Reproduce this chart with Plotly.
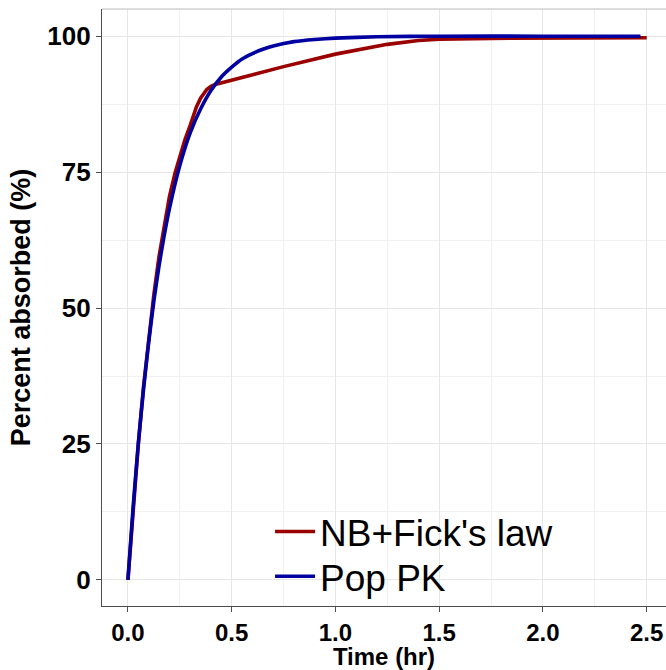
import plotly.graph_objects as go

# Data
red_name = "NB+Fick's law"
red_t = [0, 0.025, 0.05, 0.075, 0.1, 0.125, 0.15, 0.175, 0.2, 0.228, 0.25, 0.275, 0.3, 0.33,
         0.35, 0.365, 0.38, 0.39, 0.40, 0.42, 0.5, 0.75, 1.0, 1.25, 1.4, 1.5, 1.75, 2.0, 2.5]
red_v = [0, 13.5, 25, 35.5, 44.5, 52.5, 59.5, 65.5, 70.5, 75, 78, 81, 83.6, 87.0,
         88.6, 89.5, 90.2, 90.5, 90.8, 91.1, 91.9, 94.4, 96.7, 98.5, 99.2, 99.45, 99.6, 99.65, 99.7]

blue_name = "Pop PK"
blue_t = [0, 0.025, 0.05, 0.075, 0.1, 0.125, 0.15, 0.175, 0.2, 0.25, 0.3, 0.35, 0.4, 0.45,
          0.5, 0.55, 0.6, 0.65, 0.7, 0.8, 0.9, 1.0, 1.2, 1.5, 2.0, 2.47]
blue_v = [0, 13.4, 25, 35, 43.7, 51.3, 57.8, 63.4, 68.3, 76.2, 82.2, 86.6, 90, 92.5,
          94.3, 95.8, 96.8, 97.6, 98.2, 99.0, 99.4, 99.65, 99.9, 100, 100, 100]

x_ticks = [0, 0.5, 1.0, 1.5, 2.0, 2.5]
y_ticks = [0, 25, 50, 75, 100]
x_title = "Time (hr)"
y_title = "Percent absorbed (%)"

FONT = "Liberation Sans, Arial, sans-serif"

fig = go.Figure()
fig.add_trace(go.Scatter(x=red_t, y=red_v, mode="lines", name=red_name,
                         line=dict(color="#9A0000", width=3.6),
                         legend="legend", showlegend=True))
fig.add_trace(go.Scatter(x=blue_t, y=blue_v, mode="lines", name=blue_name,
                         line=dict(color="#0000A0", width=3.6, shape="spline", smoothing=0.5),
                         legend="legend2", showlegend=True))

axis_common = dict(
    showline=True, linecolor="#4D4D4D", linewidth=1.2,
    ticks="outside", ticklen=5, tickcolor="#4D4D4D", tickwidth=1.2,
    showgrid=True, gridcolor="#E6E6E6", gridwidth=1.1,
    zeroline=False,
)

fig.update_layout(
    width=666, height=670,
    showlegend=True,
    margin=dict(l=102, r=0, t=9, b=64),
    paper_bgcolor="white", plot_bgcolor="white",
    xaxis=dict(range=[-0.125, 2.593], tickvals=x_ticks, tickformat=".1f",
               tickfont=dict(family=FONT, size=24, color="black", weight="bold"),
               minor=dict(dtick=0.25, tick0=0, showgrid=True, gridcolor="#F0F0F0", gridwidth=1.0),
               title=dict(text=x_title, standoff=0,
                          font=dict(family=FONT, size=24, color="black", weight="bold")),
               **axis_common),
    yaxis=dict(range=[-4.8, 105], tickvals=y_ticks,
               tickfont=dict(family=FONT, size=26, color="black", weight="bold"),
               minor=dict(dtick=12.5, tick0=0, showgrid=True, gridcolor="#F0F0F0", gridwidth=1.0),
               title=dict(text=y_title, standoff=8,
                          font=dict(family=FONT, size=27, color="black", weight="bold")),
               **axis_common),
    legend=dict(x=0.298, y=0.124, xanchor="left", yanchor="middle",
                bgcolor="rgba(0,0,0,0)", itemwidth=40,
                font=dict(family=FONT, size=37, color="black")),
    legend2=dict(x=0.298, y=0.049, xanchor="left", yanchor="middle",
                 bgcolor="rgba(0,0,0,0)", itemwidth=40,
                 font=dict(family=FONT, size=37, color="black")),
    shapes=[
        dict(type="rect", xref="paper", yref="paper", x0=0.287, x1=0.936, y0=0.013, y1=0.152,
             fillcolor="white", line=dict(width=0), layer="between"),
        dict(type="line", xref="paper", yref="paper", x0=0, x1=1, y0=1, y1=1,
             line=dict(color="#BBBBBB", width=1.2), layer="above"),
    ],
)

fig.write_html("out.html")
